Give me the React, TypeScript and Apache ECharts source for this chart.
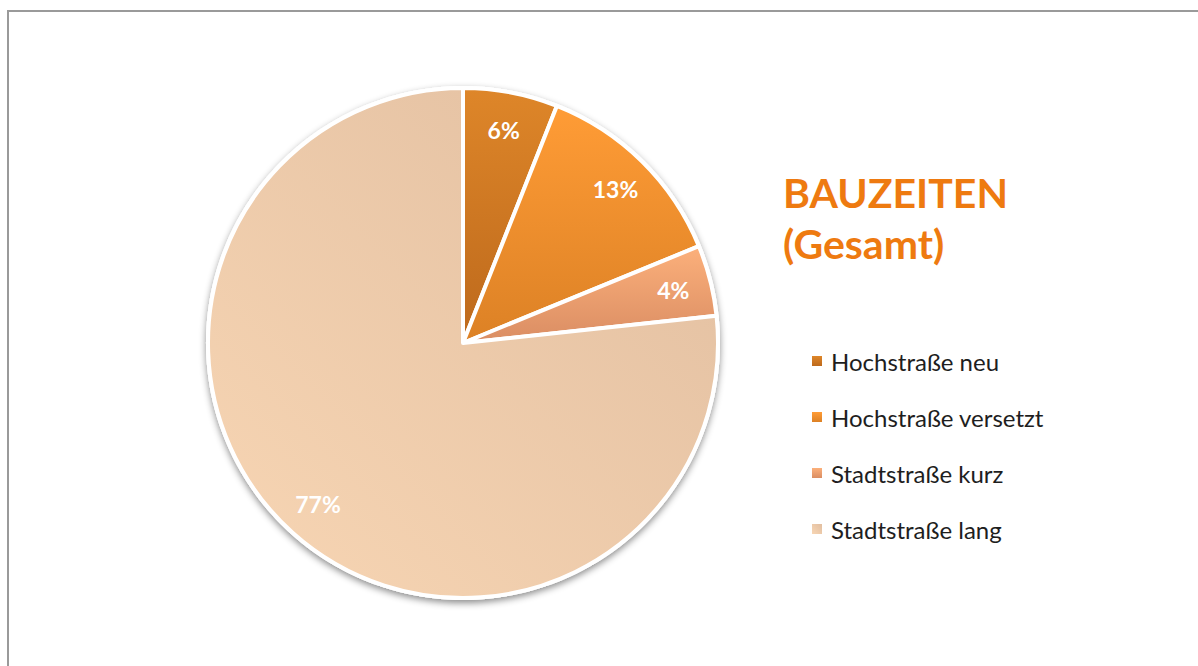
import React, { useEffect, useRef } from "react";
import * as echarts from "echarts";

const categories = ["Hochstraße neu", "Hochstraße versetzt", "Stadtstraße kurz", "Stadtstraße lang"];
const values = [6.0, 12.8, 4.5, 76.7];
const titleLines = ["BAUZEITEN", "(Gesamt)"];

const gradients: [string, string, number, number, number, number][] = [
  ["#DE8629", "#BD691C", 0, 0, 0, 1],
  ["#FF9C36", "#DC8125", 0, 0, 0, 1],
  ["#FCB07B", "#DA8D63", 0, 0, 0, 1],
  ["#E1BEA0", "#F8D6B4", 1, 0, 0, 1],
];

const CENTER = [463, 343];

export default function App() {
  const ref = useRef<HTMLDivElement>(null);
  useEffect(() => {
    if (!ref.current) return;
    const chart = echarts.init(ref.current, null, { renderer: "svg" });
    const mainData = categories.map((name, i) => {
      const g = gradients[i];
      return {
        name,
        value: values[i],
        itemStyle: {
          color: new echarts.graphic.LinearGradient(g[2], g[3], g[4], g[5], [
            { offset: 0, color: g[0] },
            { offset: 1, color: g[1] },
          ]),
        },
      };
    });
    const total = values.reduce((a, b) => a + b, 0);
    chart.setOption({
      animation: false,
      backgroundColor: "#ffffff",
      title: {
        text: titleLines.join("\n"),
        left: 783,
        top: 167,
        padding: 0,
        textStyle: {
          fontFamily: "Lato",
          fontWeight: "bold",
          fontSize: 41,
          lineHeight: 51,
          color: "#EE7A10",
        },
      },
      legend: {
        orient: "vertical",
        left: 812,
        top: 349,
        padding: 0,
        icon: "rect",
        itemWidth: 10,
        itemHeight: 10,
        itemGap: 32,
        data: categories,
        selectedMode: false,
        itemStyle: { borderWidth: 0, borderColor: "transparent" },
        textStyle: {
          fontFamily: "Lato",
          fontSize: 24,
          lineHeight: 24,
          color: "#1e1e1e",
          padding: [0, 0, 0, 4],
        },
      },
      graphic: [
        {
          type: "rect",
          shape: { x: 8, y: 11, width: 1300, height: 800 },
          style: { fill: "none", stroke: "#9a9a9a", lineWidth: 2 },
          silent: true,
        },
      ],
      series: [
        {
          type: "pie",
          center: CENTER,
          radius: [0, 257],
          silent: true,
          label: { show: false },
          labelLine: { show: false },
          itemStyle: {
            color: "#ffffff",
            shadowBlur: 7,
            shadowOffsetY: 3,
            shadowColor: "rgba(0,0,0,0.45)",
          },
          data: [{ name: "_bg", value: total }],
        },
        {
          type: "pie",
          center: CENTER,
          radius: [0, 255],
          startAngle: 90,
          clockwise: true,
          silent: true,
          avoidLabelOverlap: false,
          label: { show: false },
          labelLine: { show: false },
          itemStyle: { borderColor: "#ffffff", borderWidth: 4 },
          data: mainData,
        },
        {
          type: "pie",
          center: CENTER,
          radius: [171, 257],
          startAngle: 90,
          clockwise: true,
          silent: true,
          percentPrecision: 0,
          avoidLabelOverlap: false,
          itemStyle: { color: "rgba(0,0,0,0)", borderWidth: 0 },
          label: {
            show: true,
            position: "inside",
            formatter: "{d}%",
            fontFamily: "Lato",
            fontWeight: "bold",
            fontSize: 23,
            color: "#ffffff",
          },
          labelLine: { show: false },
          data: categories.map((name, i) => ({ name, value: values[i] })),
        },
      ],
    });
    return () => chart.dispose();
  }, []);
  return (
    <div
      ref={ref}
      style={{ position: "fixed", left: 0, top: 0, width: 1198, height: 666 }}
    />
  );
}
